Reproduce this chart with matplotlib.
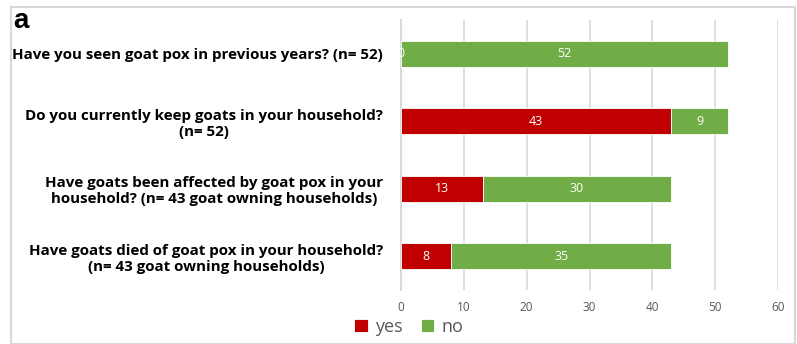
import matplotlib.pyplot as plt
from matplotlib.patches import Rectangle

questions = [
    "Have you seen goat pox in previous years? (n= 52)",
    "Do you currently keep goats in your household?\n(n= 52)",
    "Have goats been affected by goat pox in your\nhousehold? (n= 43 goat owning households)",
    "Have goats died of goat pox in your household?\n(n= 43 goat owning households)",
]
yes_counts = [0, 43, 13, 8]
no_counts = [52, 9, 30, 35]
x_ticks = [0, 10, 20, 30, 40, 50, 60]

red = "#C00000"
green = "#70AD47"
grid_col = "#d9d9d9"
text_grey = "#595959"

fig = plt.figure(figsize=(7.97, 3.44), dpi=100)
W, H = 797, 344

# outer chart frame
fig.patches.append(Rectangle((11 / W, 0), (795 - 11) / W, (H - 7) / H,
                             transform=fig.transFigure, fill=False,
                             edgecolor=grid_col, linewidth=1.5))

ax = fig.add_axes([401 / W, 1 - 290 / H, (778 - 401) / W, (290 - 20) / H])
ypos = list(range(len(questions)))

ax.barh(ypos, yes_counts, height=0.39, color=red, edgecolor="white", linewidth=0.6, label="yes", zorder=3)
ax.barh(ypos, no_counts, left=yes_counts, height=0.39, color=green, edgecolor="white", linewidth=0.6, label="no", zorder=3)

for y, yv, nv in zip(ypos, yes_counts, no_counts):
    ax.text(yv / 2, y, str(yv), color="white", ha="center", va="center", fontsize=9, family="Open Sans", zorder=4)
    ax.text(yv + nv / 2, y, str(nv), color="white", ha="center", va="center", fontsize=9, family="Open Sans", zorder=4)

ax.set_xlim(0, 60)
ax.set_ylim(len(questions) - 0.5, -0.5)
ax.set_xticks(x_ticks)
ax.set_xticklabels([str(t) for t in x_ticks], color=text_grey, fontsize=8.5, family="Open Sans")
ax.tick_params(axis="x", length=0, pad=8)
ax.set_yticks(ypos)
ax.set_yticklabels(questions, fontsize=10.9, fontweight="bold", family="Open Sans",
                   multialignment="center", linespacing=1.2)
ax.tick_params(axis="y", length=0, pad=13)
ax.grid(axis="x", color=grid_col, linewidth=1.2, zorder=0)
for s in ["top", "right", "bottom"]:
    ax.spines[s].set_visible(False)
ax.spines["left"].set_color(grid_col)
ax.spines["left"].set_linewidth(1.5)

fig.text(13 / W, 1 - 21 / H, "a", fontsize=20, fontweight="bold", family="Liberation Sans", va="center")

handles, labels = ax.get_legend_handles_labels()
fig.legend(handles, labels, loc="center", bbox_to_anchor=(409 / W, 1 - 327 / H), ncol=2, frameon=False,
           prop={"family": "Open Sans", "size": 13}, labelcolor=text_grey, handlelength=0.75,
           handleheight=0.75, handletextpad=0.4, columnspacing=1.0)

fig.savefig("out.png", dpi=100)
